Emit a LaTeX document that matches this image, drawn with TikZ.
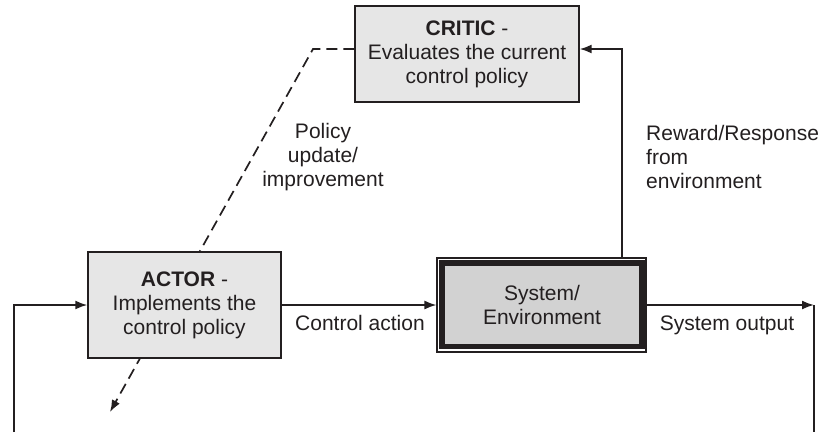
\documentclass[tikz,border=0pt]{standalone}
\usepackage{fontspec}
\setmainfont{Liberation Sans}
\usetikzlibrary{arrows.meta,backgrounds}
\definecolor{ink}{HTML}{231F20}
\definecolor{boxfill}{HTML}{E6E6E6}
\definecolor{sysfill}{HTML}{D2D2D2}
\begin{document}
\begin{tikzpicture}[x=1pt,y=-1pt,
  txt/.style={font=\fontsize{21}{24}\selectfont, text=ink, align=center, inner sep=0pt},
  blockbox/.style={txt, draw=ink, line width=1.4pt, fill=boxfill, rectangle},
  conn/.style={draw=ink, line width=1.7pt},
  tip/.style={-{Latex[length=12pt,width=9pt]}},
  dashline/.style={conn, dash pattern=on 11pt off 6pt}
]
\useasboundingbox (0,0) rectangle (822,432);

\node[blockbox, minimum width=224pt, minimum height=96pt] (critic) at (467,54)
  {\textbf{CRITIC} -\\Evaluates the current\\control policy};
\node[blockbox, minimum width=193pt, minimum height=106pt] (actor) at (184.5,305)
  {\textbf{ACTOR} -\\Implements the\\control policy};
\node[draw=ink, line width=1.1pt, minimum width=209pt, minimum height=94pt, inner sep=0pt] (sysout) at (541.5,305) {};
\node[txt, draw=ink, line width=5.5pt, fill=sysfill, minimum width=200pt, minimum height=83.5pt] (sys) at (542,304.5)
  {System/\\Environment};

\coordinate (dk) at (313,49);
\coordinate (dend) at (110,412);
\coordinate (rk) at (622,49);
\coordinate (lb) at (14,432);
\coordinate (lt) at (14,305);
\coordinate (rt) at (814,305);
\coordinate (rb) at (814,432);

\begin{scope}[on background layer]
  \draw[dashline, tip] ([yshift=5pt]critic.west) -- (dk) -- (dend);
\end{scope}

\draw[conn, tip] (sysout.north -| rk) -- (rk) -- ([yshift=5pt]critic.east);
\draw[conn, tip] (actor.east) -- (sysout.west);
\draw[conn, tip] (sysout.east) -- (rt);
\draw[conn] (rt) -- (rb);
\draw[conn, tip] (lb) -- (lt) -- (actor.west);

\node[txt] (lpolicy) at (323,157) {Policy\\update/\\improvement};
\node[txt, align=left, anchor=west] (lreward) at (646,157) {Reward/Response\\from\\environment};
\node[txt] (lcontrol) at (360,323) {Control action};
\node[txt] (loutput) at (727,325) {System output};
\end{tikzpicture}
\end{document}
